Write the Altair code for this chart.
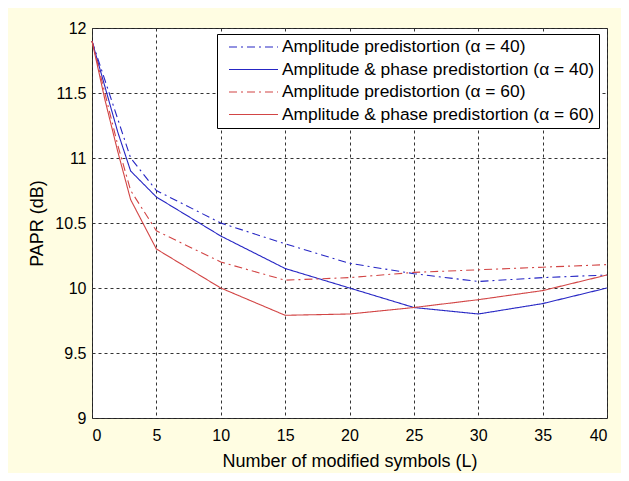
import altair as alt
import pandas as pd

L = [0, 1, 2, 3, 5, 10, 15, 20, 25, 30, 35, 40]
amp40 = [11.9, 11.6, 11.3, 11.0, 10.75, 10.5, 10.34, 10.19, 10.11, 10.05, 10.08, 10.1]
ampph40 = [11.9, 11.55, 11.2, 10.9, 10.7, 10.4, 10.15, 10.0, 9.85, 9.8, 9.88, 10.0]
amp60 = [11.9, 11.5, 11.1, 10.75, 10.44, 10.2, 10.06, 10.08, 10.12, 10.14, 10.16, 10.18]
ampph60 = [11.9, 11.45, 11.05, 10.68, 10.3, 10.0, 9.79, 9.8, 9.85, 9.91, 9.98, 10.1]

names = [
    "Amplitude predistortion (α = 40)",
    "Amplitude & phase predistortion (α = 40)",
    "Amplitude predistortion (α = 60)",
    "Amplitude & phase predistortion (α = 60)",
]
series = [amp40, ampph40, amp60, ampph60]
colors = ["#2626c4", "#2626c4", "#d24545", "#d24545"]
dashes = [[8, 4, 2, 4], [1, 0], [8, 4, 2, 4], [1, 0]]

rows = []
for name, vals in zip(names, series):
    for l, v in zip(L, vals):
        rows.append({"L": l, "PAPR": v, "series": name})
df = pd.DataFrame(rows)

chart = alt.Chart(df).mark_line(strokeWidth=1.1).encode(
    x=alt.X("L:Q", title="Number of modified symbols (L)",
            scale=alt.Scale(domain=[0, 40], nice=False),
            axis=alt.Axis(values=list(range(0, 41, 5)), format="d")),
    y=alt.Y("PAPR:Q", title="PAPR (dB)",
            scale=alt.Scale(domain=[9, 12], nice=False),
            axis=alt.Axis(values=[9, 9.5, 10, 10.5, 11, 11.5, 12], format=".1~f")),
    color=alt.Color("series:N", sort=names,
                    scale=alt.Scale(domain=names, range=colors),
                    legend=alt.Legend(
                        title=None, orient="none", legendX=125, legendY=6,
                        symbolType="stroke", symbolSize=2401, symbolStrokeWidth=1.2,
                        symbolOffset=7,
                        labelFontSize=17.4, labelFont="Liberation Sans", labelColor="#000",
                        labelLimit=600, rowPadding=4.5, labelOffset=3, clipHeight=18,
                        fillColor="white", strokeColor="black", padding=4,
                    )),
    strokeDash=alt.StrokeDash("series:N", sort=names,
                              scale=alt.Scale(domain=names, range=dashes),
                              legend=None),
    order=alt.Order("L:Q"),
).properties(
    width=515, height=390,
    background="#fffde2",
    autosize=alt.AutoSizeParams(type="none"),
    padding={"left": 84, "top": 20, "right": 14, "bottom": 55},
).configure_view(
    stroke="#222", strokeWidth=1, fill="white",
).configure_axis(
    domain=False, ticks=False,
    grid=True, gridColor="#333", gridDash=[3, 3], gridWidth=1, gridOpacity=1,
    labelFont="Liberation Sans", labelFontSize=16, labelColor="#000",
    titleFont="Liberation Sans", titleFontSize=18, titleFontWeight="normal", titleColor="#000",
).configure_axisX(titlePadding=9, labelPadding=9).configure_axisY(titlePadding=8, labelPadding=6)

chart.save("out.html", embed_options={"renderer": "svg", "actions": False})
